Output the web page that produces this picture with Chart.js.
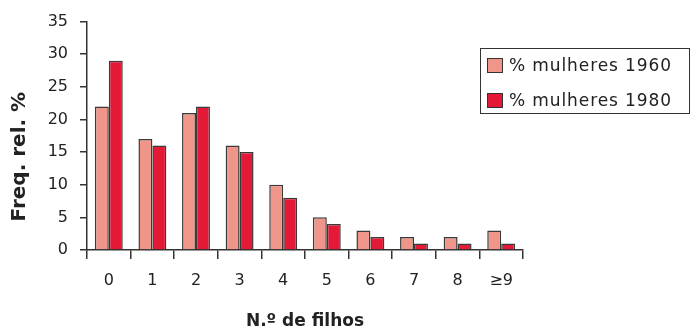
<!DOCTYPE html>
<html>
<head>
<meta charset="utf-8">
<script src="https://cdn.jsdelivr.net/npm/chart.js@4"></script>
<style>
  html, body { margin: 0; padding: 0; background: #fff; }
  #wrap { position: relative; width: 691px; height: 332px; }
  #legend {
    position: absolute; left: 480px; top: 48px; width: 210px; height: 66px;
    border: 1px solid #333; font-family: "DejaVu Sans", Verdana, sans-serif;
    font-size: 17px; letter-spacing: 0.9px; color: #222; box-sizing: border-box;
  }
  .item { position: absolute; left: 6px; height: 20px; line-height: 20px; white-space: nowrap; }
  .sw { display: inline-block; width: 16px; height: 15px; border: 1.5px solid #333;
        vertical-align: -2px; margin-right: 6px; box-sizing: border-box; }
</style>
</head>
<body>
<div id="wrap">
  <canvas id="chart" width="691" height="332"></canvas>
  <div id="legend"></div>
</div>
<script>
// Dados
const categories = ["0", "1", "2", "3", "4", "5", "6", "7", "8", "≥9"];
const mulheres1960 = [22, 17, 21, 16, 10, 5, 3, 2, 2, 3];
const mulheres1980 = [29, 16, 22, 15, 8, 4, 2, 1, 1, 1];
const seriesLabels = ["% mulheres 1960", "% mulheres 1980"];
const seriesColors = ["#F0958A", "#E31937"];

const font = "'DejaVu Sans', Verdana, sans-serif";
const axisColor = "#333";

// Legenda em HTML (caixa à direita)
const legend = document.getElementById("legend");
seriesLabels.forEach(function (lbl, i) {
  const div = document.createElement("div");
  div.className = "item";
  div.style.top = (i === 0 ? 6 : 41) + "px";
  div.innerHTML = '<span class="sw" style="background:' + seriesColors[i] + '"></span>' + lbl;
  legend.appendChild(div);
});

const ctx = document.getElementById("chart").getContext("2d");
new Chart(ctx, {
  type: "bar",
  data: {
    labels: categories,
    datasets: [
      {
        label: seriesLabels[0],
        data: mulheres1960,
        backgroundColor: seriesColors[0],
        borderColor: "#3a3a3a",
        borderWidth: 1.5,
        borderSkipped: "bottom",
      },
      {
        label: seriesLabels[1],
        data: mulheres1980,
        backgroundColor: seriesColors[1],
        borderColor: "#3a3a3a",
        borderWidth: 1.5,
        borderSkipped: "bottom",
      },
    ],
  },
  options: {
    responsive: false,
    animation: false,
    layout: { padding: { top: 20, right: 168, left: 0, bottom: 0 } },
    datasets: { bar: { categoryPercentage: 0.64, barPercentage: 1.0 } },
    plugins: {
      legend: { display: false },
      tooltip: { enabled: false },
    },
    scales: {
      x: {
        offset: true,
        grid: {
          offset: true,
          drawOnChartArea: false,
          drawTicks: true,
          tickLength: 9,
          color: axisColor,
          lineWidth: 1.5,
        },
        border: { color: axisColor, width: 1.5 },
        ticks: { color: "#222", font: { family: font, size: 16 }, padding: 12 },
        title: {
          display: true,
          text: "N.º de filhos",
          color: "#222",
          font: { family: font, size: 17, weight: "bold" },
          padding: { top: 18, bottom: 0 },
        },
        afterFit: function (axis) { axis.height = 82; },
      },
      y: {
        min: 0,
        max: 35,
        grid: {
          drawOnChartArea: false,
          drawTicks: true,
          tickLength: 7,
          color: axisColor,
          lineWidth: 1.5,
        },
        border: { color: axisColor, width: 1.5 },
        ticks: { stepSize: 5, color: "#222", font: { family: font, size: 16 }, padding: 12 },
        title: {
          display: true,
          // espaços no fim: desloca o título para baixo, como no original
          text: "Freq. rel. %      ",
          color: "#222",
          font: { family: font, size: 20, weight: "bold" },
          padding: { top: 8, bottom: 4 },
        },
        afterFit: function (axis) { axis.width = 87; },
      },
    },
  },
});
</script>
</body>
</html>
